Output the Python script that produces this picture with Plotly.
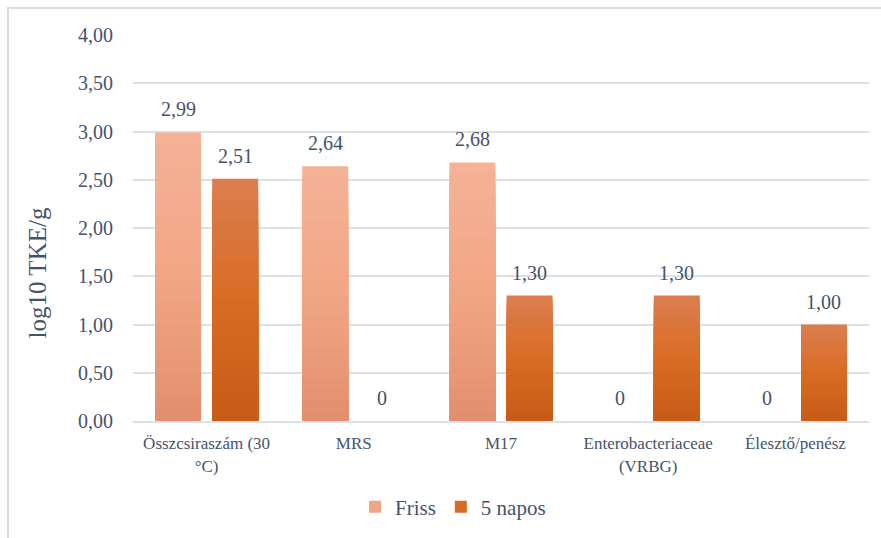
import plotly.graph_objects as go

# Mikrobiológiai eredmények (log10 TKE/g), friss és 5 napos minták
categories = ["Összcsiraszám (30<br>°C)", "MRS", "M17", "Enterobacteriaceae<br>(VRBG)", "Élesztő/penész"]
friss = [2.99, 2.64, 2.68, 0, 0]
napos5 = [2.51, 0, 1.30, 1.30, 1.00]
series_names = ["Friss", "5 napos"]
y_ticks = [0, 0.5, 1.0, 1.5, 2.0, 2.5, 3.0, 3.5, 4.0]

# Vertical gradient stops (top, middle, bottom) for each series
gradients = {
    "Friss": [(245, 178, 151), (241, 166, 133), (226, 142, 110)],
    "5 napos": [(219, 126, 80), (217, 108, 36), (199, 91, 22)],
}

TEXT = "#44546A"
GRID = "#DCE0E7"
FONT = '"Liberation Serif", "Times New Roman", serif'
N_SLICES = 24
BARGAP = 0.223
BARGROUPGAP = 0.196

W, H = 881, 538
ML, MR, MT, MB = 133, 12, 35, 116
PW, PH = W - ML - MR, H - MT - MB


def px_x(p):
    return (p - ML) / PW


def px_y(p):
    return (H - MB - p) / PH


def grad_color(stops, t):
    # t = 0 at the bar top, 1 at the bottom
    if t <= 0.5:
        a, b, f = stops[0], stops[1], t / 0.5
    else:
        a, b, f = stops[1], stops[2], (t - 0.5) / 0.5
    c = [round(a[i] + (b[i] - a[i]) * f) for i in range(3)]
    return f"rgb({c[0]},{c[1]},{c[2]})"


fig = go.Figure()

for name, values in zip(series_names, [friss, napos5]):
    stops = gradients[name]
    # overlapping slices in the same offset group build the top-to-bottom gradient
    for k in range(N_SLICES):
        frac = 1 - k / N_SLICES
        t = (k + 0.5) / N_SLICES
        fig.add_trace(go.Bar(
            x=categories,
            y=[v * frac for v in values],
            name=name,
            offsetgroup=name,
            legendgroup=name,
            showlegend=(k == N_SLICES // 2),
            marker=dict(color=grad_color(stops, t), line=dict(width=0)),
            hoverinfo="skip",
        ))

# value labels above the bars
half = (1 - BARGAP) / 4
annotations = []
for i, (a, b) in enumerate(zip(friss, napos5)):
    for v, dx in ((a, -half), (b, half)):
        label = f"{v:.2f}".replace(".", ",") if v else "0"
        annotations.append(dict(
            x=i + dx, y=v, xref="x", yref="y", text=label, showarrow=False,
            yanchor="bottom", yshift=10,
            font=dict(family=FONT, size=20, color=TEXT),
        ))

# y-axis title
annotations.append(dict(
    x=px_x(37), y=px_y(274), xref="paper", yref="paper", text="log10 TKE/g",
    textangle=-90, showarrow=False, xanchor="center", yanchor="middle",
    font=dict(family=FONT, size=25, color=TEXT),
))

fig.update_layout(
    width=W, height=H,
    margin=dict(l=ML, r=MR, t=MT, b=MB, pad=0),
    paper_bgcolor="white", plot_bgcolor="white",
    barmode="group", bargap=BARGAP, bargroupgap=BARGROUPGAP,
    separators=", ",
    font=dict(family=FONT, color=TEXT),
    annotations=annotations,
    legend=dict(
        orientation="h", x=px_x(453), y=px_y(507), xanchor="center", yanchor="middle",
        font=dict(family=FONT, size=21, color=TEXT), itemwidth=30,
        traceorder="normal",
    ),
    shapes=[dict(
        type="rect", xref="paper", yref="paper",
        x0=px_x(8), x1=px_x(900), y0=px_y(560), y1=px_y(8),
        line=dict(color="#D9DDE3", width=2), fillcolor="rgba(0,0,0,0)", layer="below",
    )],
)

fig.update_yaxes(
    range=[0, 4], tickvals=y_ticks, tickformat=".2f",
    showgrid=True, gridcolor=GRID, gridwidth=2, zeroline=False,
    showline=False, ticks="", ticklabelstandoff=19,
    tickfont=dict(family=FONT, size=20, color=TEXT),
)
fig.update_xaxes(
    showgrid=False, showline=True, linecolor=GRID, linewidth=2, ticks="",
    ticklabelstandoff=6,
    tickfont=dict(family=FONT, size=17, color=TEXT),
)

fig.write_html("out.html")
